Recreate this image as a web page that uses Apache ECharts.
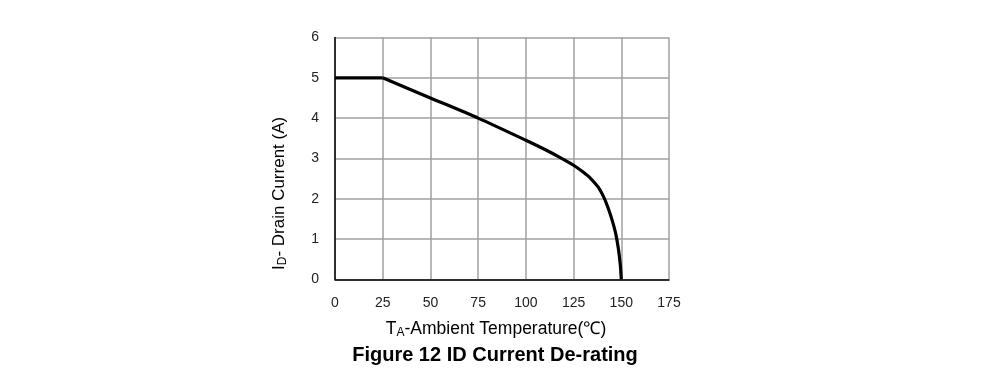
<!DOCTYPE html>
<html><head><meta charset="utf-8">
<script src="https://cdn.jsdelivr.net/npm/echarts@6/dist/echarts.min.js"></script>
<style>html,body{margin:0;padding:0;background:#fff}#c{width:991px;height:386px}</style>
</head><body><div id="c"></div>
<script>
const flatTemps = [0, 25];
const flatCurrent = [5, 5];
const temps = [25, 50, 75, 100, 110, 118, 125, 130, 134, 138, 141, 143, 145, 147, 148.5, 149.5, 150];
const current = [5, 4.5, 4.0, 3.45, 3.22, 3.02, 2.83, 2.66, 2.5, 2.28, 2.02, 1.78, 1.5, 1.15, 0.75, 0.35, 0];
const xTicks = [0, 25, 50, 75, 100, 125, 150, 175];
const yTicks = [0, 1, 2, 3, 4, 5, 6];
const chart = echarts.init(document.getElementById('c'));
const font = 'Liberation Sans, Arial, sans-serif';
chart.setOption({
  animation: false,
  title: {
    text: 'Figure 12 ID Current De-rating',
    left: 490, top: 340, textAlign: 'center',
    textStyle: {fontFamily: font, fontSize: 20, fontWeight: 'bold', color: '#000'}
  },
  grid: {left: 335, right: 322, top: 37.5, bottom: 106.7},
  xAxis: {
    type: 'value', min: 0, max: 175, interval: 25,
    name: '{n|T}{s|A}{n|-Ambient Temperature(℃)}',
    nameLocation: 'middle', nameGap: 40,
    nameTextStyle: {padding: [0, 12, 0, 0], rich: {
      n: {fontFamily: font, fontSize: 17.5, color: '#000'},
      s: {fontFamily: font, fontSize: 12, color: '#000', padding: [7, 0, 0, 0]}
    }},
    axisLine: {show: true, onZero: false, lineStyle: {color: '#000', width: 1.5}},
    axisTick: {show: false},
    axisLabel: {fontFamily: font, fontSize: 14, color: '#222', margin: 17,
      formatter: v => xTicks.includes(v) ? String(v) : ''},
    splitLine: {show: true, lineStyle: {color: '#a0a0a0', width: 1.5}}
  },
  yAxis: {
    type: 'value', min: 0, max: 6, interval: 1,
    name: '{n|I}{s|D}{n|- Drain Current (A)}',
    nameLocation: 'middle', nameGap: 46, nameRotate: 90,
    nameTextStyle: {padding: [0, 70, 0, 0], rich: {
      n: {fontFamily: font, fontSize: 17, color: '#000'},
      s: {fontFamily: font, fontSize: 12, color: '#000', padding: [7, 0, 0, 0]}
    }},
    axisLine: {show: true, onZero: false, lineStyle: {color: '#000', width: 1.5}},
    axisTick: {show: false},
    axisLabel: {fontFamily: font, fontSize: 14, color: '#222', margin: 16,
      formatter: v => yTicks.includes(v) ? String(v) : ''},
    splitLine: {show: true, lineStyle: {color: '#a0a0a0', width: 1.5}}
  },
  series: [{
    type: 'line',
    data: flatTemps.map((t, i) => [t, flatCurrent[i]]),
    showSymbol: false,
    lineStyle: {color: '#000', width: 3.2},
    z: 5
  }, {
    type: 'line',
    data: temps.map((t, i) => [t, current[i]]),
    showSymbol: false,
    smooth: 0.25,
    lineStyle: {color: '#000', width: 3.2},
    z: 5
  }]
});
</script></body></html>
